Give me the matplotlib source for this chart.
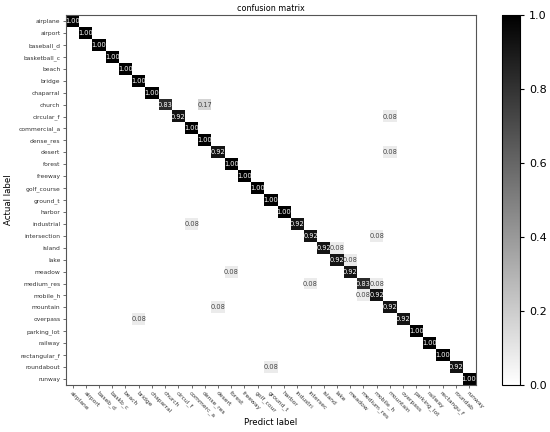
import numpy as np
import matplotlib
matplotlib.use("Agg")
import matplotlib.pyplot as plt

# Class names (rows = actual, columns = predicted)
row_labels = ["airplane", "airport", "baseball_d", "basketball_c", "beach", "bridge",
              "chaparral", "church", "circular_f", "commercial_a", "dense_res", "desert",
              "forest", "freeway", "golf_course", "ground_t", "harbor", "industrial",
              "intersection", "island", "lake", "meadow", "medium_res", "mobile_h",
              "mountain", "overpass", "parking_lot", "railway", "rectangular_f",
              "roundabout", "runway"]
col_labels = ["airplane", "airport", "baseb_d", "baskb_c", "beach", "bridge",
              "chaparral", "church", "circul_f", "commerc_a", "dense_res", "desert",
              "forest", "freeway", "golf_cour", "ground_t", "harbor", "industri",
              "intersec", "island", "lake", "meadow", "medium_res", "mobile_h",
              "mountain", "overpass", "parking_lot", "railway", "rectangu_f",
              "roundab", "runway"]

# Diagonal values (per-class accuracy)
diag_values = [1.00, 1.00, 1.00, 1.00, 1.00, 1.00, 1.00, 0.83, 0.92, 1.00, 1.00, 0.92,
               1.00, 1.00, 1.00, 1.00, 1.00, 0.92, 0.92, 0.92, 0.92, 0.92, 0.83, 0.92,
               0.92, 0.92, 1.00, 1.00, 1.00, 0.92, 1.00]

# Off-diagonal confusions: (actual row, predicted col, value)
off_rows = [7, 8, 11, 17, 18, 19, 20, 21, 22, 22, 23, 24, 25, 29]
off_cols = [10, 24, 24, 9, 23, 20, 21, 12, 18, 23, 22, 11, 5, 15]
off_vals = [0.17, 0.08, 0.08, 0.08, 0.08, 0.08, 0.08, 0.08, 0.08, 0.08, 0.08, 0.08, 0.08, 0.08]

n = len(row_labels)
cm = np.zeros((n, n))
cm[np.arange(n), np.arange(n)] = diag_values
cm[off_rows, off_cols] = off_vals

fig = plt.figure(figsize=(5.5, 4.32), dpi=100)
ax = fig.add_axes([0.12, 0.109, 0.745, 0.856])
cax = fig.add_axes([0.912, 0.109, 0.034, 0.856])

im = ax.imshow(cm, cmap="binary", vmin=0, vmax=1, aspect="auto", interpolation="nearest")

# Annotate non-zero cells
for i in range(n):
    for j in range(n):
        v = cm[i, j]
        if v > 0:
            ax.text(j, i, "%.2f" % v, ha="center", va="center", fontsize=4.8,
                    color="white" if v > 0.5 else "#444444")

ax.set_xticks(np.arange(n))
ax.set_yticks(np.arange(n))
ax.set_xticklabels(col_labels, rotation=-45, ha="left", rotation_mode="anchor", fontsize=4.3)
ax.set_yticklabels(row_labels, fontsize=4.3)
ax.tick_params(length=2, width=0.5, pad=2, colors="#333333")
ax.set_title("confusion matrix", fontsize=5.8, pad=3)
ax.set_ylabel("Actual label", fontsize=6.2)
# x label placed by hand so it stays inside the figure below the slanted ticks
fig.text(0.4925, 0.022, "Predict label", ha="center", va="center", fontsize=6.2)
for s in ax.spines.values():
    s.set_linewidth(0.8)
    s.set_color("#555555")

cb = fig.colorbar(im, cax=cax)
cb.set_ticks([0.0, 0.2, 0.4, 0.6, 0.8, 1.0])
cb.ax.tick_params(labelsize=8, length=3)
cb.outline.set_linewidth(0.8)

plt.savefig("out.png", dpi=100)
